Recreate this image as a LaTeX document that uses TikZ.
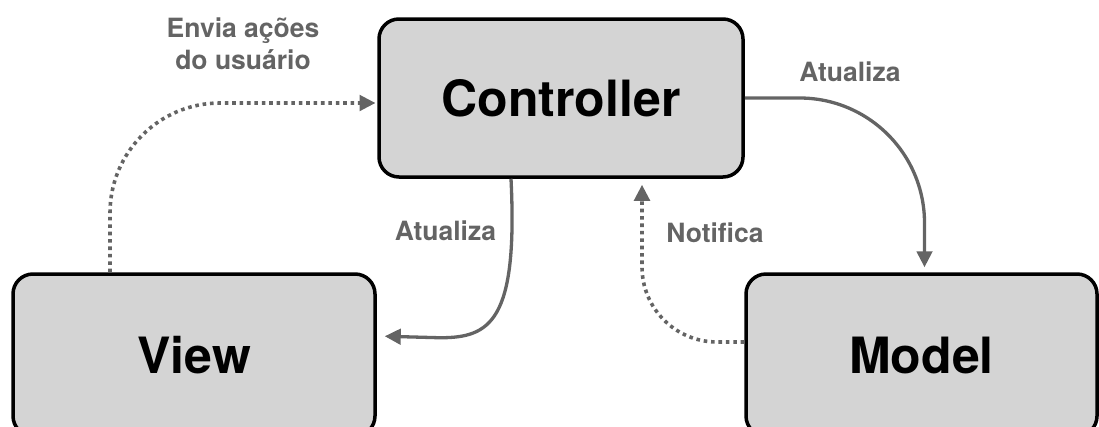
\documentclass[tikz,border=0pt]{standalone}
\usepackage{fontspec}
\setmainfont{TeX Gyre Heros}
\usetikzlibrary{arrows.meta,calc}

\definecolor{boxfill}{HTML}{D4D4D4}
\definecolor{linkgray}{HTML}{646464}

\begin{document}
\begin{tikzpicture}[x=1pt,y=-1pt,
  block/.style={draw=black, line width=3.5pt, fill=boxfill, rounded corners=20pt,
    minimum height=162pt, inner sep=0pt, font=\bfseries\fontsize{50}{60}\selectfont},
  link/.style={draw=linkgray, line width=3.3pt, -{Triangle[length=16pt,width=15.5pt]}},
  dotlink/.style={link, line width=3.6pt, dash pattern=on 3.6pt off 3.8pt},
  lbl/.style={text=linkgray, inner sep=0pt, font=\bfseries\fontsize{26.5}{32}\selectfont}]

\useasboundingbox (0,0) rectangle (1099,426);

% the three MVC blocks
\node[block, minimum width=364pt, minimum height=158pt] (ctrl) at (561,98) {Controller};
\node[block, minimum width=362pt] (view) at (194,355) {View};
\node[block, minimum width=351pt] (model) at (921.5,355) {Model};

% attachment points of the connectors
\coordinate (vOut)  at ($(view.north)+(-84,0)$);
\coordinate (cIn)   at ($(ctrl.west)+(0,5)$);
\coordinate (mIn)   at ($(model.north)+(3,0)$);
\coordinate (cOut)  at ($(ctrl.south)+(-50,0)$);
\coordinate (vIn)   at ($(view.east)+(0,-19)$);
\coordinate (mOut)  at ($(model.west)+(0,-13)$);
\coordinate (cIn2)  at ($(ctrl.south)+(81,0)$);

% View sends user actions to the Controller
\draw[dotlink, rounded corners=110pt, shorten >=1.75pt] (vOut) |- (cIn);

% Controller updates the Model
\draw[link, rounded corners=125pt, shorten >=5pt] (ctrl.east) -| (mIn);

% Controller updates the View
\draw[link, shorten >=8pt] (cOut) .. controls +(7,143) and +(50,0) .. ++(-71,159) -- (vIn);

% Model notifies the Controller
\draw[dotlink, rounded corners=75pt, shorten >=6pt] (mOut) -| (cIn2);

% connector labels
\node[lbl, align=center] (lblE) at (243,43.5) {Envia ações\\do usuário};
\node[lbl, anchor=base] (lblA1) at (850,81.5) {Atualiza};
\node[lbl, anchor=base] (lblA2) at (445.5,240) {Atualiza};
\node[lbl, anchor=base] (lblN) at (715,242.5) {Notifica};
\end{tikzpicture}
\end{document}
